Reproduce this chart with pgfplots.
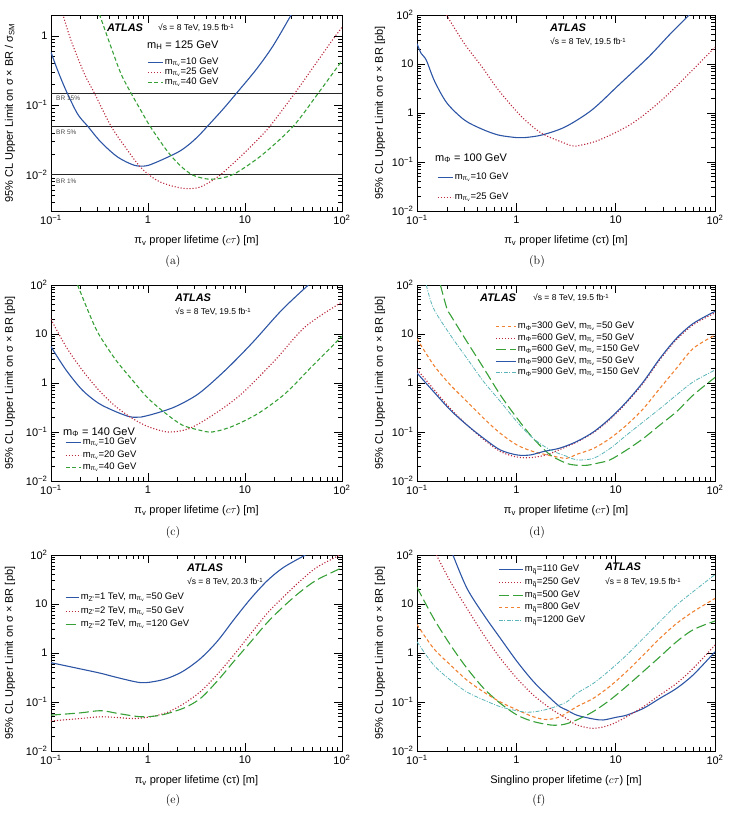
\documentclass[border=0pt]{standalone}
\usepackage{pgfplots}
\pgfplotsset{compat=1.18}
\usepackage{fontspec}
\newfontfamily\hv{Liberation Sans}
\definecolor{cblue}{RGB}{45,85,165}
\definecolor{cred}{RGB}{185,40,60}
\definecolor{cgreen}{RGB}{55,160,55}
\definecolor{corange}{RGB}{240,130,50}
\definecolor{ccyan}{RGB}{90,180,185}
\newcommand{\fsz}[1]{\fontsize{#1}{#1}\selectfont}
\newcommand{\mpv}{m\textsubscript{π\textsubscript{v}}}
\tikzset{
  sblue/.style={cblue,line width=1.1pt},
  sred/.style={cred,line width=1.1pt,dash pattern=on 1.1pt off 1.9pt},
  sgreen/.style={cgreen,line width=1.1pt,dash pattern=on 4pt off 2.5pt},
  sgreenl/.style={cgreen,line width=1.1pt,dash pattern=on 10pt off 4pt},
  sorange/.style={corange,line width=1.1pt,dash pattern=on 3.5pt off 2.5pt},
  scyan/.style={ccyan,line width=0.8pt,dash pattern=on 4pt off 1.5pt on 1pt off 1.5pt},
}
\begin{document}
\begin{tikzpicture}
\path[use as bounding box] (0,0) rectangle (729pt,-819pt);

% ---------------- (a)
\begin{axis}[scale only axis, width=291pt, height=196pt, at={(51pt,-211pt)}, anchor=south west,
  xmode=log, ymode=log, xmin=0.1, xmax=100, ymin=0.003, ymax=2,
  xtick={0.1,1,10,100}, xticklabels={10\textsuperscript{−1},1,10,10\textsuperscript{2}},
  minor xtick={0.2,0.3,0.4,0.5,0.6,0.7,0.8,0.9,2,3,4,5,6,7,8,9,20,30,40,50,60,70,80,90},
  ytick={0.01,0.1,1}, yticklabels={10\textsuperscript{−2},10\textsuperscript{−1},1},
  minor ytick={0.003,0.004,0.005,0.006,0.007,0.008,0.009,0.02,0.03,0.04,0.05,0.06,0.07,0.08,0.09,0.2,0.3,0.4,0.5,0.6,0.7,0.8,0.9,2},
  tick align=inside, major tick length=8pt, minor tick length=4pt,
  axis line style={line width=0.8pt}, every tick/.append style={black,line width=0.6pt},
  tick label style={font=\hv\fsz{11}}, label style={font=\hv\fsz{11}},
  xticklabel style={yshift=-1pt},
  xlabel style={at={(axis description cs:0.5,-0.153)},anchor=center},
  ylabel style={at={(axis description cs:-0.141,0.5)},anchor=center},
  ylabel={95\% CL Upper Limit on σ × BR / σ\textsubscript{SM}},
  xlabel={π\textsubscript{v} proper lifetime ($c\tau$) [m]},
  legend cell align=left,
  legend image code/.code={\draw[#1] (0pt,0pt) -- (15pt,0pt);},
  legend style={draw=none,fill=none,inner sep=0pt,anchor=north west,font=\hv\fsz{9.5},
    nodes={inner sep=1.5pt,text height=6pt,text depth=2pt},row sep=-1pt,
    at={(axis description cs:0.330,0.786)}}]
\addplot[black!85,line width=0.6pt,forget plot] coordinates {(0.1,0.15) (100,0.15)};
\addplot[black!85,line width=0.6pt,forget plot] coordinates {(0.1,0.05) (100,0.05)};
\addplot[black!85,line width=0.6pt,forget plot] coordinates {(0.1,0.01) (100,0.01)};
\addplot[sblue,smooth] coordinates {(0.1,0.58) (0.117,0.32) (0.143,0.163) (0.188,0.075) (0.239,0.05) (0.327,0.0295) (0.486,0.018) (0.72,0.0137) (0.95,0.0134) (1.23,0.0152) (1.82,0.0195) (2.2,0.0225) (2.71,0.0280) (3.3,0.036) (4.03,0.0485) (5.98,0.089) (8.2,0.15) (13.2,0.335) (19.6,0.73) (30.3,2.07)};
\addlegendentry{\mpv=10 GeV}
\addplot[sred,smooth] coordinates {(0.132,2.07) (0.161,0.86) (0.221,0.284) (0.28,0.15) (0.416,0.05) (0.617,0.0224) (0.8,0.0138) (1.0,0.0102) (1.3,0.0080) (1.82,0.0068) (2.5,0.0063) (3.3,0.0065) (4.03,0.0074) (5.5,0.0098) (8.9,0.018) (13.2,0.031) (18.1,0.05) (32.7,0.15) (50.6,0.355) (81,0.9) (100,1.33)};
\addlegendentry{\mpv=25 GeV}
\addplot[sgreen,smooth] coordinates {(0.315,2.07) (0.416,0.69) (0.527,0.284) (0.668,0.15) (0.85,0.083) (1.05,0.05) (1.56,0.0224) (2.14,0.0136) (2.93,0.0098) (4.35,0.0086) (6.47,0.0093) (8.9,0.0115) (15.5,0.02) (31.5,0.05) (57,0.15) (100,0.44)};
\addlegendentry{\mpv=40 GeV}
\end{axis}

% ---------------- (b)
\begin{axis}[scale only axis, width=298pt, height=196pt, at={(417pt,-211pt)}, anchor=south west,
  xmode=log, ymode=log, xmin=0.1, xmax=100, ymin=0.01, ymax=100,
  xtick={0.1,1,10,100}, xticklabels={10\textsuperscript{−1},1,10,10\textsuperscript{2}},
  minor xtick={0.2,0.3,0.4,0.5,0.6,0.7,0.8,0.9,2,3,4,5,6,7,8,9,20,30,40,50,60,70,80,90},
  ytick={0.01,0.1,1,10,100}, yticklabels={10\textsuperscript{−2},10\textsuperscript{−1},1,10,10\textsuperscript{2}},
  minor ytick={0.02,0.03,0.04,0.05,0.06,0.07,0.08,0.09,0.2,0.3,0.4,0.5,0.6,0.7,0.8,0.9,2,3,4,5,6,7,8,9,20,30,40,50,60,70,80,90},
  tick align=inside, major tick length=8pt, minor tick length=4pt,
  axis line style={line width=0.8pt}, every tick/.append style={black,line width=0.6pt},
  tick label style={font=\hv\fsz{11}}, label style={font=\hv\fsz{11}},
  xticklabel style={yshift=-1pt},
  xlabel style={at={(axis description cs:0.5,-0.153)},anchor=center},
  ylabel style={at={(axis description cs:-0.124,0.5)},anchor=center},
  ylabel={95\% CL Upper Limit on σ × BR [pb]},
  xlabel={π\textsubscript{v} proper lifetime (cτ) [m]},
  legend cell align=left,
  legend image code/.code={\draw[#1] (0pt,0pt) -- (15pt,0pt);},
  legend style={draw=none,fill=none,inner sep=0pt,anchor=north west,font=\hv\fsz{9.5},
    nodes={inner sep=1.5pt,text height=6pt,text depth=2pt},row sep=9pt,
    at={(axis description cs:0.067,0.199)}}]
\addplot[sblue,smooth] coordinates {(0.1,26) (0.11,16.5) (0.124,12) (0.15,4.5) (0.2,1.6) (0.3,0.72) (0.45,0.47) (0.66,0.355) (1.0,0.315) (1.2,0.314) (1.8,0.355) (3.1,0.52) (5.75,1.15) (10.7,3.7) (21.5,14) (35,40) (55,100)};
\addlegendentry{\mpv=10 GeV}
\addplot[sred,smooth] coordinates {(0.198,100) (0.3,26) (0.45,8.8) (0.66,2.95) (1.13,0.84) (1.8,0.385) (3.1,0.24) (3.6,0.215) (4.2,0.215) (6.8,0.28) (14.6,0.61) (31.7,2.15) (100,22)};
\addlegendentry{\mpv=25 GeV}
\end{axis}

% ---------------- (c)
\begin{axis}[scale only axis, width=291pt, height=196pt, at={(51pt,-481pt)}, anchor=south west,
  xmode=log, ymode=log, xmin=0.1, xmax=100, ymin=0.01, ymax=100,
  xtick={0.1,1,10,100}, xticklabels={10\textsuperscript{−1},1,10,10\textsuperscript{2}},
  minor xtick={0.2,0.3,0.4,0.5,0.6,0.7,0.8,0.9,2,3,4,5,6,7,8,9,20,30,40,50,60,70,80,90},
  ytick={0.01,0.1,1,10,100}, yticklabels={10\textsuperscript{−2},10\textsuperscript{−1},1,10,10\textsuperscript{2}},
  minor ytick={0.02,0.03,0.04,0.05,0.06,0.07,0.08,0.09,0.2,0.3,0.4,0.5,0.6,0.7,0.8,0.9,2,3,4,5,6,7,8,9,20,30,40,50,60,70,80,90},
  tick align=inside, major tick length=8pt, minor tick length=4pt,
  axis line style={line width=0.8pt}, every tick/.append style={black,line width=0.6pt},
  tick label style={font=\hv\fsz{11}}, label style={font=\hv\fsz{11}},
  xticklabel style={yshift=-1pt},
  xlabel style={at={(axis description cs:0.5,-0.153)},anchor=center},
  ylabel style={at={(axis description cs:-0.141,0.5)},anchor=center},
  ylabel={95\% CL Upper Limit on σ × BR [pb]},
  xlabel={π\textsubscript{v} proper lifetime ($c\tau$) [m]},
  legend cell align=left,
  legend image code/.code={\draw[#1] (0pt,0pt) -- (15pt,0pt);},
  legend style={draw=none,fill=none,inner sep=0pt,anchor=north west,font=\hv\fsz{9.5},
    nodes={inner sep=1.5pt,text height=6pt,text depth=2pt},row sep=1.5pt,
    at={(axis description cs:0.048,0.224)}}]
\addplot[sblue,smooth] coordinates {(0.1,5.5) (0.143,1.84) (0.21,0.72) (0.31,0.385) (0.466,0.26) (0.64,0.206) (0.75,0.2) (0.85,0.202) (1.2,0.24) (1.92,0.33) (3.34,0.61) (6.3,1.84) (11.8,6.5) (24,31) (45,100)};
\addlegendentry{\mpv=10 GeV}
\addplot[sred,smooth] coordinates {(0.1,20) (0.143,5.5) (0.21,1.84) (0.31,0.72) (0.466,0.33) (0.69,0.19) (1.0,0.129) (1.63,0.10) (2.7,0.119) (4.95,0.24) (9.3,0.61) (20.5,2.95) (41.7,14) (100,45)};
\addlegendentry{\mpv=20 GeV}
\addplot[sgreen,smooth] coordinates {(0.188,100) (0.248,26) (0.31,10) (0.466,2.95) (0.69,1.15) (1.0,0.49) (1.52,0.24) (2.25,0.139) (3.34,0.11) (4.57,0.10) (7.3,0.129) (13.7,0.24) (26,0.61) (48.7,2.15) (100,9)};
\addlegendentry{\mpv=40 GeV}
\end{axis}

% ---------------- (d)
\begin{axis}[scale only axis, width=298pt, height=196pt, at={(417pt,-481pt)}, anchor=south west,
  xmode=log, ymode=log, xmin=0.1, xmax=100, ymin=0.01, ymax=100,
  xtick={0.1,1,10,100}, xticklabels={10\textsuperscript{−1},1,10,10\textsuperscript{2}},
  minor xtick={0.2,0.3,0.4,0.5,0.6,0.7,0.8,0.9,2,3,4,5,6,7,8,9,20,30,40,50,60,70,80,90},
  ytick={0.01,0.1,1,10,100}, yticklabels={10\textsuperscript{−2},10\textsuperscript{−1},1,10,10\textsuperscript{2}},
  minor ytick={0.02,0.03,0.04,0.05,0.06,0.07,0.08,0.09,0.2,0.3,0.4,0.5,0.6,0.7,0.8,0.9,2,3,4,5,6,7,8,9,20,30,40,50,60,70,80,90},
  tick align=inside, major tick length=8pt, minor tick length=4pt,
  axis line style={line width=0.8pt}, every tick/.append style={black,line width=0.6pt},
  tick label style={font=\hv\fsz{11}}, label style={font=\hv\fsz{11}},
  xticklabel style={yshift=-1pt},
  xlabel style={at={(axis description cs:0.5,-0.153)},anchor=center},
  ylabel style={at={(axis description cs:-0.124,0.5)},anchor=center},
  ylabel={95\% CL Upper Limit on σ × BR [pb]},
  xlabel={π\textsubscript{v} proper lifetime ($c\tau$) [m]},
  legend cell align=left,
  legend image code/.code={\draw[#1] (0pt,0pt) -- (20pt,0pt);},
  legend style={draw=none,fill=none,inner sep=0pt,anchor=north west,font=\hv\fsz{9.5},
    nodes={inner sep=1.5pt,text height=6pt,text depth=2pt},row sep=0.5pt,
    at={(axis description cs:0.262,0.816)}}]
\addplot[sorange,smooth] coordinates {(0.1,8) (0.147,2.33) (0.217,0.91) (0.318,0.42) (0.47,0.19) (0.69,0.094) (1.02,0.054) (1.48,0.040) (2.2,0.033) (3.2,0.029) (4.05,0.035) (5.96,0.046) (8.77,0.074) (12.9,0.139) (19,0.30) (27.9,0.78) (41,2.0) (60.5,5.1) (100,9.5)};
\addlegendentry{m\textsubscript{Φ}=300 GeV, \mpv\,=50 GeV}
\addplot[sred,smooth] coordinates {(0.1,1.9) (0.147,0.75) (0.217,0.3) (0.318,0.14) (0.47,0.07) (0.69,0.04) (1.0,0.031) (1.4,0.030) (2.0,0.034) (2.75,0.044) (4.05,0.062) (5.96,0.097) (8.77,0.18) (12.9,0.40) (19,1.0) (27.9,3.0) (41,7.7) (60.5,15.5) (100,27)};
\addlegendentry{m\textsubscript{Φ}=600 GeV, \mpv\,=50 GeV}
\addplot[sgreenl,smooth] coordinates {(0.172,100) (0.2,33) (0.217,24.5) (0.318,7) (0.47,2.0) (0.69,0.57) (1.02,0.19) (1.48,0.074) (2.2,0.034) (3.2,0.023) (4.05,0.021) (5.2,0.021) (6.5,0.023) (8.77,0.027) (12.9,0.043) (19,0.074) (27.9,0.139) (41,0.26) (60.5,0.57) (100,1.3)};
\addlegendentry{m\textsubscript{Φ}=600 GeV, \mpv\,=150 GeV}
\addplot[sblue,smooth] coordinates {(0.1,1.6) (0.147,0.665) (0.217,0.28) (0.318,0.139) (0.47,0.074) (0.69,0.043) (1.02,0.034) (1.38,0.034) (1.88,0.040) (2.75,0.047) (4.05,0.064) (5.96,0.10) (8.77,0.19) (12.9,0.417) (19,1.06) (27.9,3.18) (41,8.2) (60.5,16.5) (100,29)};
\addlegendentry{m\textsubscript{Φ}=900 GeV, \mpv\,=50 GeV}
\addplot[scyan,smooth] coordinates {(0.124,100) (0.147,33) (0.217,9.5) (0.318,3.2) (0.47,1.06) (0.69,0.42) (1.02,0.16) (1.48,0.074) (2.2,0.043) (3.2,0.032) (4.05,0.027) (5.96,0.029) (8.77,0.046) (12.9,0.087) (19,0.162) (27.9,0.30) (41,0.57) (60.5,1.06) (100,1.84)};
\addlegendentry{m\textsubscript{Φ}=900 GeV, \mpv\,=150 GeV}
\end{axis}

% ---------------- (e)
\begin{axis}[scale only axis, width=291pt, height=196pt, at={(51pt,-751pt)}, anchor=south west,
  xmode=log, ymode=log, xmin=0.1, xmax=100, ymin=0.01, ymax=100,
  xtick={0.1,1,10,100}, xticklabels={10\textsuperscript{−1},1,10,10\textsuperscript{2}},
  minor xtick={0.2,0.3,0.4,0.5,0.6,0.7,0.8,0.9,2,3,4,5,6,7,8,9,20,30,40,50,60,70,80,90},
  ytick={0.01,0.1,1,10,100}, yticklabels={10\textsuperscript{−2},10\textsuperscript{−1},1,10,10\textsuperscript{2}},
  minor ytick={0.02,0.03,0.04,0.05,0.06,0.07,0.08,0.09,0.2,0.3,0.4,0.5,0.6,0.7,0.8,0.9,2,3,4,5,6,7,8,9,20,30,40,50,60,70,80,90},
  tick align=inside, major tick length=8pt, minor tick length=4pt,
  axis line style={line width=0.8pt}, every tick/.append style={black,line width=0.6pt},
  tick label style={font=\hv\fsz{11}}, label style={font=\hv\fsz{11}},
  xticklabel style={yshift=-1pt},
  xlabel style={at={(axis description cs:0.5,-0.153)},anchor=center},
  ylabel style={at={(axis description cs:-0.141,0.5)},anchor=center},
  ylabel={95\% CL Upper Limit on σ × BR [pb]},
  xlabel={π\textsubscript{v} proper lifetime (cτ) [m]},
  legend cell align=left,
  legend image code/.code={\draw[#1] (0pt,0pt) -- (13pt,0pt);},
  legend style={draw=none,fill=none,inner sep=0pt,anchor=north west,font=\hv\fsz{9.5},
    nodes={inner sep=1.5pt,text height=6pt,text depth=2pt},row sep=2.5pt,
    at={(axis description cs:0.048,0.811)}}]
\addplot[sblue,smooth] coordinates {(0.1,0.635) (0.2,0.475) (0.327,0.385) (0.5,0.31) (0.85,0.248) (1.26,0.27) (1.7,0.32) (2.37,0.44) (3.5,0.78) (5.2,1.75) (7.8,5) (11.5,13) (17,30) (25,56) (42,100)};
\addlegendentry{m\textsubscript{Z'}=1 TeV, \mpv\,=50 GeV}
\addplot[sred,smooth] coordinates {(0.1,0.041) (0.2,0.046) (0.327,0.05) (0.5,0.048) (0.72,0.046) (1.07,0.05) (1.6,0.062) (2.37,0.094) (3.5,0.165) (5.2,0.37) (7.8,0.95) (11.5,2.5) (17,6.5) (25.4,14.5) (37.5,30) (55,56) (95,100)};
\addlegendentry{m\textsubscript{Z'}=2 TeV, \mpv\,=50 GeV}
\addplot[sgreenl,smooth] coordinates {(0.1,0.054) (0.2,0.06) (0.327,0.0665) (0.5,0.058) (0.85,0.05) (1.36,0.054) (2.37,0.076) (3.5,0.12) (5.2,0.27) (7.8,0.7) (11.5,1.7) (17,4.2) (25.4,9.2) (37.5,18) (55,31) (100,55)};
\addlegendentry{m\textsubscript{Z'}=2 TeV, \mpv\,=120 GeV}
\end{axis}

% ---------------- (f)
\begin{axis}[scale only axis, width=298pt, height=196pt, at={(417pt,-751pt)}, anchor=south west,
  xmode=log, ymode=log, xmin=0.1, xmax=100, ymin=0.01, ymax=100,
  xtick={0.1,1,10,100}, xticklabels={10\textsuperscript{−1},1,10,10\textsuperscript{2}},
  minor xtick={0.2,0.3,0.4,0.5,0.6,0.7,0.8,0.9,2,3,4,5,6,7,8,9,20,30,40,50,60,70,80,90},
  ytick={0.01,0.1,1,10,100}, yticklabels={10\textsuperscript{−2},10\textsuperscript{−1},1,10,10\textsuperscript{2}},
  minor ytick={0.02,0.03,0.04,0.05,0.06,0.07,0.08,0.09,0.2,0.3,0.4,0.5,0.6,0.7,0.8,0.9,2,3,4,5,6,7,8,9,20,30,40,50,60,70,80,90},
  tick align=inside, major tick length=8pt, minor tick length=4pt,
  axis line style={line width=0.8pt}, every tick/.append style={black,line width=0.6pt},
  tick label style={font=\hv\fsz{11}}, label style={font=\hv\fsz{11}},
  xticklabel style={yshift=-1pt},
  xlabel style={at={(axis description cs:0.5,-0.153)},anchor=center},
  ylabel style={at={(axis description cs:-0.124,0.5)},anchor=center},
  ylabel={95\% CL Upper Limit on σ × BR [pb]},
  xlabel={Singlino proper lifetime ($c\tau$) [m]},
  legend cell align=left,
  legend image code/.code={\draw[#1] (0pt,0pt) -- (24pt,0pt);},
  legend style={draw=none,fill=none,inner sep=0pt,anchor=north west,font=\hv\fsz{9.5},
    nodes={inner sep=1.5pt,text height=6pt,text depth=2pt},row sep=1.7pt,
    at={(axis description cs:0.272,0.954)}}]
\addplot[sblue,smooth] coordinates {(0.23,100) (0.318,21) (0.47,6) (0.69,2) (1.02,0.665) (1.49,0.26) (2.2,0.119) (2.75,0.08) (3.2,0.069) (4.05,0.054) (5.96,0.045) (7.5,0.043) (10.2,0.049) (12.9,0.054) (19,0.074) (27.9,0.119) (41,0.19) (60.5,0.36) (100,1.06)};
\addlegendentry{m\textsubscript{\~q}=110 GeV}
\addplot[sred,smooth] coordinates {(0.157,100) (0.217,28.6) (0.318,8.2) (0.47,2.33) (0.69,0.78) (1.02,0.30) (1.48,0.139) (2.2,0.074) (3.2,0.046) (4.05,0.034) (5.96,0.029) (8.77,0.034) (12.9,0.05) (19,0.08) (27.9,0.139) (41,0.24) (60.5,0.49) (100,1.45)};
\addlegendentry{m\textsubscript{\~q}=250 GeV}
\addplot[sgreenl,smooth] coordinates {(0.1,22) (0.147,5.1) (0.217,1.46) (0.318,0.49) (0.47,0.19) (0.69,0.094) (1.02,0.054) (1.48,0.040) (2.2,0.034) (2.75,0.034) (3.2,0.036) (4.05,0.043) (5.96,0.064) (8.77,0.11) (12.9,0.21) (19,0.42) (27.9,0.84) (41,1.7) (60.5,3.0) (100,4.5)};
\addlegendentry{m\textsubscript{\~q}=500 GeV}
\addplot[sorange,smooth] coordinates {(0.1,3.8) (0.147,1.24) (0.217,0.57) (0.318,0.28) (0.47,0.16) (0.69,0.10) (1.02,0.069) (1.48,0.05) (2.0,0.044) (2.75,0.050) (4.05,0.08) (5.96,0.119) (8.77,0.21) (12.9,0.42) (19,0.91) (27.9,2.0) (41,4) (60.5,7) (100,13)};
\addlegendentry{m\textsubscript{\~q}=800 GeV}
\addplot[scyan,smooth] coordinates {(0.1,1.7) (0.147,0.57) (0.217,0.28) (0.318,0.16) (0.47,0.11) (0.69,0.08) (1.02,0.066) (1.3,0.062) (1.6,0.064) (2.2,0.074) (3.2,0.10) (4.05,0.15) (5.96,0.24) (8.77,0.45) (12.9,0.91) (19,2) (27.9,4.4) (41,9.5) (60.5,18) (100,40)};
\addlegendentry{m\textsubscript{\~q}=1200 GeV}
\end{axis}

% ---------------- texts
\begin{scope}[every node/.style={anchor=west,inner sep=0pt}]
\node[font=\hv\bfseries\itshape\fsz{11}] at (107pt,-28pt) {ATLAS};
\node[font=\hv\fsz{8.5}] at (158pt,-28pt) {√s = 8 TeV, 19.5 fb\textsuperscript{-1}};
\node[font=\hv\fsz{11}] at (147pt,-45pt) {m\textsubscript{H} = 125 GeV};
\node[font=\hv\fsz{6.5},text=black!70] at (56pt,-98pt) {BR 15\%};
\node[font=\hv\fsz{6.5},text=black!70] at (56pt,-132pt) {BR 5\%};
\node[font=\hv\fsz{6.5},text=black!70] at (56pt,-181pt) {BR 1\%};

\node[font=\hv\bfseries\itshape\fsz{11}] at (550pt,-28pt) {ATLAS};
\node[font=\hv\fsz{8.5}] at (550pt,-42pt) {√s = 8 TeV, 19.5 fb\textsuperscript{-1}};
\node[font=\hv\fsz{11}] at (435pt,-158pt) {m\textsubscript{Φ} = 100 GeV};

\node[font=\hv\bfseries\itshape\fsz{11}] at (175pt,-298pt) {ATLAS};
\node[font=\hv\fsz{8.5}] at (175pt,-312pt) {√s = 8 TeV, 19.5 fb\textsuperscript{-1}};
\node[font=\hv\fsz{11}] at (63pt,-432pt) {m\textsubscript{Φ} = 140 GeV};

\node[font=\hv\bfseries\itshape\fsz{11}] at (480pt,-298pt) {ATLAS};
\node[font=\hv\fsz{8.5}] at (533pt,-298pt) {√s = 8 TeV, 19.5 fb\textsuperscript{-1}};

\node[font=\hv\bfseries\itshape\fsz{11}] at (187pt,-568pt) {ATLAS};
\node[font=\hv\fsz{8.5}] at (187pt,-582pt) {√s = 8 TeV, 20.3 fb\textsuperscript{-1}};

\node[font=\hv\bfseries\itshape\fsz{11}] at (605pt,-567pt) {ATLAS};
\node[font=\hv\fsz{8.5}] at (605pt,-582pt) {√s = 8 TeV, 19.5 fb\textsuperscript{-1}};
\end{scope}
\begin{scope}[every node/.style={font=\fsz{12}}]
\node at (173pt,-262pt) {(a)};
\node at (537pt,-262pt) {(b)};
\node at (173pt,-532pt) {(c)};
\node at (537pt,-532pt) {(d)};
\node at (173pt,-800pt) {(e)};
\node at (539pt,-800pt) {(f)};
\end{scope}
\end{tikzpicture}
\end{document}
